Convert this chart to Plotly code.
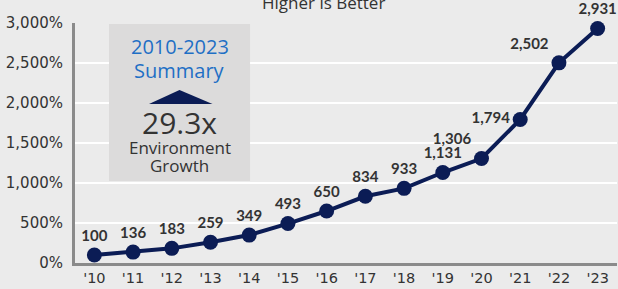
import plotly.graph_objects as go

years = ["'10", "'11", "'12", "'13", "'14", "'15", "'16", "'17", "'18", "'19", "'20", "'21", "'22", "'23"]
values = [100, 136, 183, 259, 349, 493, 650, 834, 933, 1131, 1306, 1794, 2502, 2931]
label_pos = ["top center"] * 10 + ["top left", "middle left", "top left", "top center"]
y_ticks = [0, 500, 1000, 1500, 2000, 2500, 3000]
y_tick_labels = ["0%", "500%", "1,000%", "1,500%", "2,000%", "2,500%", "3,000%"]

navy = "#0b1c55"
bg = "#ebebeb"
txt = "#333333"

fig = go.Figure()
fig.add_trace(go.Scatter(
    x=years, y=values, mode="lines+markers+text",
    line=dict(color=navy, width=4),
    marker=dict(color=navy, size=15),
    text=[f"{v:,}" for v in values],
    textposition=label_pos,
    textfont=dict(family="Lato", size=15, color=txt, weight="bold"),
    cliponaxis=False, showlegend=False, hoverinfo="skip",
))

fig.update_layout(
    width=618, height=289,
    margin=dict(l=75, r=1, t=23, b=26, autoexpand=False),
    paper_bgcolor=bg, plot_bgcolor=bg,
    font=dict(family="DejaVu Sans", color=txt, size=15),
    xaxis=dict(range=[-0.5, 13.5], showgrid=False, showline=True, linecolor="#8a8a8a",
               linewidth=3, ticks="", ticklabelstandoff=0, automargin=False,
               tickfont=dict(family="DejaVu Sans", size=14.5, color=txt)),
    yaxis=dict(range=[0, 3000], tickvals=y_ticks, ticktext=y_tick_labels,
               showgrid=True, gridcolor="white", gridwidth=2, zeroline=False,
               showline=True, linecolor="#8a8a8a", linewidth=3, ticks="",
               ticklabelstandoff=6, automargin=False,
               tickfont=dict(family="DejaVu Sans", size=15, color=txt)),
)

# summary box
fig.add_shape(type="rect", xref="paper", yref="paper", x0=0.0627, x1=0.323, y0=0.342, y1=0.996,
              fillcolor="#dcdbdb", line=dict(width=0), layer="above")
fig.add_shape(type="path", xref="paper", yref="paper",
              path="M 0.1928 0.721 L 0.1365 0.6625 L 0.2537 0.6625 Z",
              fillcolor=navy, line=dict(width=0), layer="above")

def ann(text, y, size, color=txt):
    fig.add_annotation(x=0.193, y=y, xref="paper", yref="paper", text=text, showarrow=False,
                       font=dict(family="Open Sans", size=size, color=color),
                       xanchor="center", yanchor="middle")

ann("2010-2023", 0.9, 20, "#1f6fc5")
ann("Summary", 0.804, 20, "#1f6fc5")
ann("29.3x", 0.5875, 30)
ann("Environment", 0.482, 17)
ann("Growth", 0.408, 17)

fig.add_annotation(x=0.459, y=1.03, xref="paper", yref="paper", text="Higher is Better",
                   showarrow=False, font=dict(family="Open Sans", size=17, color=txt),
                   xanchor="center", yanchor="bottom")

fig.write_html("out.html", config={"displayModeBar": False},
               post_script="document.body.style.margin='0';document.body.style.overflow='hidden';")
